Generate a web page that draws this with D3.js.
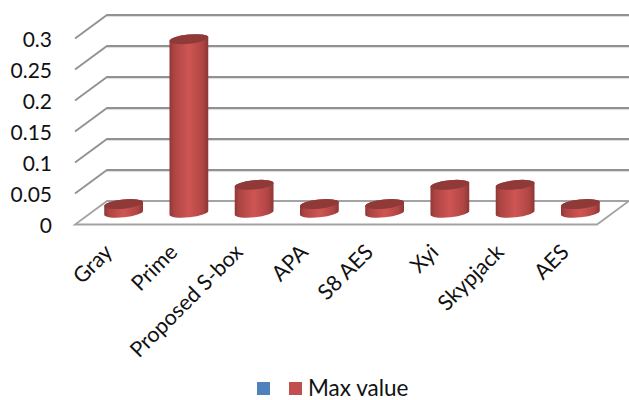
<!DOCTYPE html>
<html>
<head>
<meta charset="utf-8">
<script src="https://cdn.jsdelivr.net/npm/d3@7"></script>
<style>
html,body{margin:0;padding:0;background:#fff;}
svg{display:block;}
text{font-family:Lato,"Open Sans",sans-serif;fill:#111;}
</style>
</head>
<body>
<svg id="chart" width="629" height="400"></svg>
<script>
const categories = ["Gray","Prime","Proposed S-box","APA","S8 AES","Xyi","Skypjack","AES"];
const maxValues = [0.014,0.28,0.045,0.014,0.014,0.045,0.045,0.014];
const yTicks = [0,0.05,0.1,0.15,0.2,0.25,0.3];
const yTickLabels = ["0","0.05","0.1","0.15","0.2","0.25","0.3"];
const legendLabels = ["","Max value"];
const legendColors = ["#4f81bd","#c0504d"];

// Oblique projection of the chart box: back wall is shifted up and to the right.
const depthX = 32, depthY = -23.5;
const svg = d3.select("#chart");
const x = d3.scaleBand().domain(categories).range([75,597]);
const y = d3.scaleLinear().domain([0,0.3]).range([224.5,38.5]);

const defs = svg.append("defs");
const side = defs.append("linearGradient").attr("id","cyl");
[[0,"#8f3837"],[0.12,"#ad4543"],[0.5,"#cf5553"],[0.85,"#b04644"],[1,"#8d3736"]]
  .forEach(([o,c]) => side.append("stop").attr("offset",o).attr("stop-color",c));

// Wall gridlines and the matching side-wall diagonals
const grid = svg.append("g").attr("fill","none").attr("stroke","#8b8b8b").attr("stroke-width",1.8);
const gridTicks = yTicks.filter(t => t > 0);
gridTicks.forEach(t => {
  const p = d3.path();
  p.moveTo(x.range()[0], y(t));
  p.lineTo(x.range()[0]+depthX, y(t)+depthY);
  p.lineTo(x.range()[1]+depthX, y(t)+depthY);
  grid.append("path").attr("d",p.toString()).attr("stroke-opacity",0.95);
  svg.append("line")
    .attr("x1",x.range()[0]+depthX).attr("x2",x.range()[1]+depthX)
    .attr("y1",y(t)+depthY+1.6).attr("y2",y(t)+depthY+1.6)
    .attr("stroke","#dcdcdc").attr("stroke-width",1);
});

// Floor outline
const floor = d3.path();
floor.moveTo(x.range()[0]+depthX, y(0)+depthY);
floor.lineTo(x.range()[1]+depthX, y(0)+depthY);
floor.lineTo(x.range()[1], y(0));
floor.lineTo(x.range()[0], y(0));
floor.closePath();
svg.append("path").attr("d",floor.toString()).attr("fill","#fff")
  .attr("stroke","#a3a3a3").attr("stroke-width",1.8);

// Cylinders
const rx = 19.5, ry = 4.6, tilt = -6;
const rad = tilt*Math.PI/180;
const dx = rx*Math.cos(rad), dy = rx*Math.sin(rad);
const bars = svg.append("g").selectAll("g").data(categories).join("g");
bars.each(function(d,i){
  const g = d3.select(this);
  const cx = x(d)+x.bandwidth()/2+depthX/2;
  const base = y(0)+depthY/2;
  const top = base-(y(0)-y(maxValues[i]));
  const body = `M${cx-dx},${top-dy} L${cx-dx},${base-dy} `+
    `A${rx},${ry} ${tilt} 0 0 ${cx+dx},${base+dy} `+
    `L${cx+dx},${top+dy} A${rx},${ry} ${tilt} 0 0 ${cx-dx},${top-dy} Z`;
  g.append("path").attr("d",body).attr("fill","url(#cyl)");
  g.append("ellipse").attr("rx",rx).attr("ry",ry)
    .attr("transform",`translate(${cx},${top}) rotate(${tilt})`)
    .attr("fill","#8f3a38");
});

// Value axis labels
const yAxis = d3.axisLeft(y).tickValues(yTicks)
  .tickFormat((t,i) => yTickLabels[i]).tickSize(0).tickPadding(0);
const yG = svg.append("g").attr("transform","translate(52,1.5)").call(yAxis);
yG.select(".domain").remove();
yG.selectAll("text").attr("font-size",21);

// Category labels, rotated and ending under each cylinder
svg.append("g").selectAll("text").data(categories).join("text")
  .attr("text-anchor","end").attr("font-size",21.5)
  .attr("transform",d => `translate(${x(d)+x.bandwidth()/2+6},${y(0)+29}) rotate(-45)`)
  .text(d => d);

// Legend
const legend = svg.append("g");
legendColors.forEach((c,i) => {
  legend.append("rect").attr("x",257+i*32).attr("y",382).attr("width",13).attr("height",13).attr("fill",c);
});
legend.append("text").attr("x",308).attr("y",396).attr("font-size",22.5).text(legendLabels[1]);
</script>
</body>
</html>
